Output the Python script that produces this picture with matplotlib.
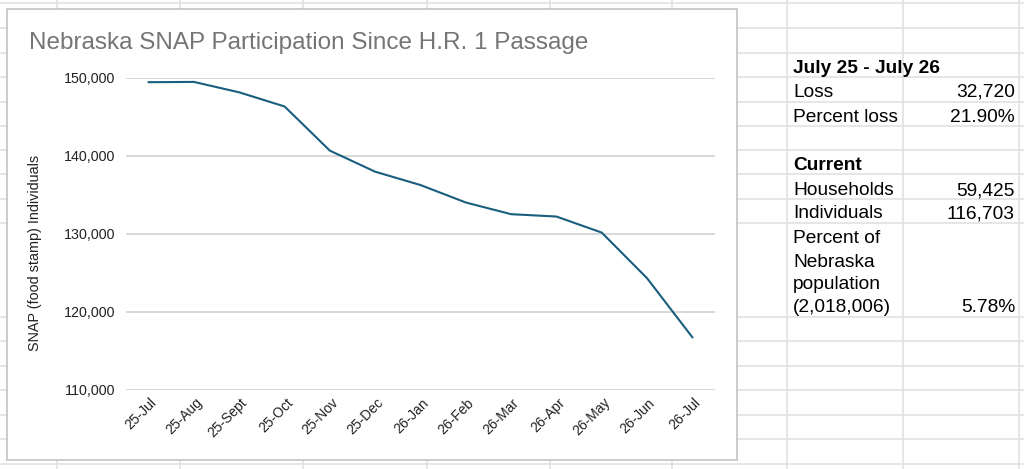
import numpy as np
import matplotlib.pyplot as plt
from matplotlib.lines import Line2D
from matplotlib.patches import Rectangle
import matplotlib.transforms as mtransforms

plt.rcParams['font.family'] = ['Liberation Sans', 'DejaVu Sans']

# chart data
months = ['25-Jul', '25-Aug', '25-Sept', '25-Oct', '25-Nov', '25-Dec', '26-Jan',
          '26-Feb', '26-Mar', '26-Apr', '26-May', '26-Jun', '26-Jul']
individuals = [149423, 149460, 148120, 146310, 140640, 137940, 136230,
               133990, 132490, 132190, 130130, 124280, 116703]
y_ticks = [110000, 120000, 130000, 140000, 150000]

# side table (spreadsheet cells)
table_head1 = 'July 25 - July 26'
table_rows1 = [('Loss', '32,720'), ('Percent loss', '21.90%')]
table_head2 = 'Current'
table_rows2 = [('Households', '59,425'), ('Individuals', '116,703')]
pop_label = ['Percent of', 'Nebraska', 'population', '(2,018,006)']
pop_value = '5.78%'

W, H = 1024, 469
fig = plt.figure(figsize=(W / 100, H / 100), dpi=100)
fig.patch.set_facecolor('white')

def fx(px):
    return px / W

def fy(py):
    return 1 - py / H

# spreadsheet grid behind everything
grid_c = '#e1e1e1'
col_lines = [57, 180, 303, 427, 550, 672, 787, 903, 1019]
row_lines = [3, 28, 53, 77, 102, 126, 150, 174, 199, 223, 317, 341, 366, 390, 415, 439, 464]
for x in col_lines:
    fig.add_artist(Line2D([fx(x), fx(x)], [0, 1], color=grid_c, lw=1.2, zorder=0))
for y in row_lines:
    fig.add_artist(Line2D([0, 1], [fy(y), fy(y)], color=grid_c, lw=1.2, zorder=0))

# chart box
fig.add_artist(Rectangle((fx(7), fy(460)), fx(737) - fx(7), fy(9) - fy(460),
                         facecolor='white', edgecolor='#c4c4c4', lw=1.2, zorder=1))

fig.text(fx(29), fy(43), 'Nebraska SNAP Participation Since H.R. 1 Passage',
         fontsize=17.5, color='#757575', ha='left', va='center', zorder=3)

ax = fig.add_axes([fx(126), fy(389.5), fx(715) - fx(126), fy(77.7) - fy(389.5)], zorder=2)
ax.patch.set_alpha(0)
x = np.arange(len(months))
ax.plot(x, individuals, color='#195e7e', lw=1.5, solid_joinstyle='round', zorder=3)
ax.set_xlim(-0.5, len(months) - 0.5)
ax.set_ylim(y_ticks[0], y_ticks[-1])
ax.set_yticks(y_ticks)
ax.set_yticklabels([f'{v:,}' for v in y_ticks])
ax.yaxis.grid(True, color='#d6d6d6', lw=1.3)
ax.set_axisbelow(True)
for s in ax.spines.values():
    s.set_visible(False)
ax.tick_params(axis='y', length=0, pad=8, labelsize=10.3, labelcolor='#222222')
ax.set_xticks(x)
ax.set_xticklabels(months, rotation=45, ha='right', va='center', rotation_mode='anchor')
ax.tick_params(axis='x', length=0, pad=8, labelsize=10, labelcolor='#222222')
offset = mtransforms.ScaledTranslation(6 / 100, 0, fig.dpi_scale_trans)
for lab in ax.get_xticklabels():
    lab.set_transform(lab.get_transform() + offset)

fig.text(fx(35), fy(253), 'SNAP (food stamp) Individuals', rotation=90,
         fontsize=10.4, color='#222222', ha='center', va='center')

# table text
tx_l, tx_r = 793, 1015
fs = 13.8
fig.text(fx(tx_l), fy(73.3), table_head1, fontsize=fs, fontweight='bold', va='baseline')
for (lab, val), b in zip(table_rows1, [96.7, 121.7]):
    fig.text(fx(tx_l), fy(b), lab, fontsize=fs, va='baseline')
    fig.text(fx(tx_r), fy(b), val, fontsize=fs, va='baseline', ha='right')
fig.text(fx(tx_l), fy(170), table_head2, fontsize=fs, fontweight='bold', va='baseline')
for (lab, val), b in zip(table_rows2, [195, 218.3]):
    fig.text(fx(tx_l), fy(b), lab, fontsize=fs, va='baseline')
    fig.text(fx(tx_r), fy(b), val, fontsize=fs, va='baseline', ha='right')
for lab, b in zip(pop_label, [243.3, 266.7, 289.3, 311.7]):
    fig.text(fx(tx_l), fy(b), lab, fontsize=fs, va='baseline')
fig.text(fx(tx_r), fy(311.7), pop_value, fontsize=fs, va='baseline', ha='right')

fig.savefig('out.png', dpi=100)
